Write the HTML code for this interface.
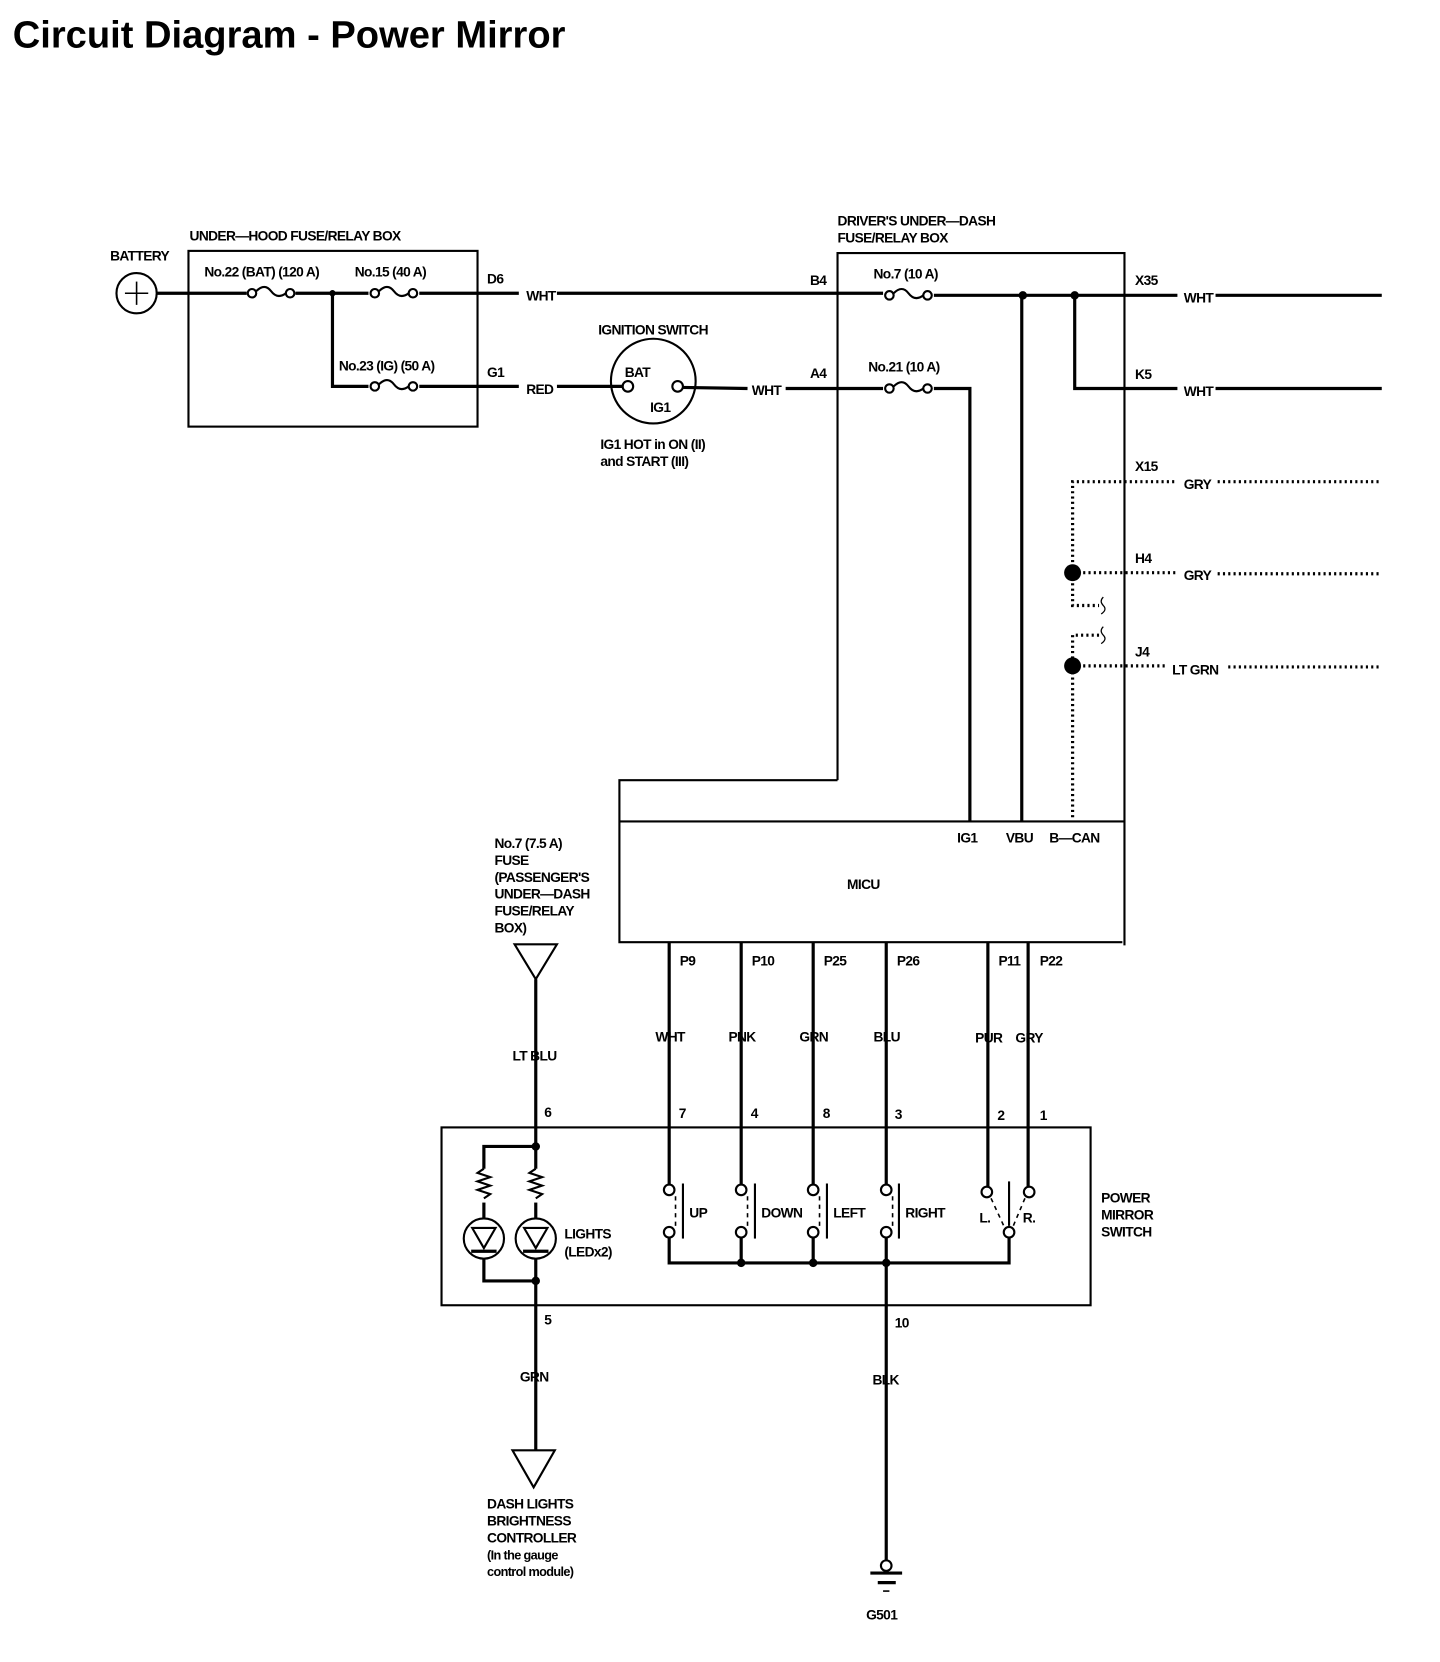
<!DOCTYPE html>
<html><head><meta charset="utf-8"><style>
html,body{margin:0;padding:0;background:#fff;}
svg{display:block;}
text{font-family:"Liberation Sans Narrow","Liberation Sans",sans-serif;font-weight:bold;font-size:13px;letter-spacing:-0.6px;fill:#000;}
.t{font-size:36px;letter-spacing:0px;font-family:"Liberation Sans",sans-serif;}
</style></head><body>
<svg width="1440" height="1662" viewBox="0 0 1360 1570" preserveAspectRatio="none" xmlns="http://www.w3.org/2000/svg">
<rect width="1360" height="1570" fill="#fff"/>
<text x="12" y="45" class="t">Circuit Diagram - Power Mirror</text>
<g fill="none" stroke="#000" stroke-width="2">
<circle cx="129" cy="277" r="19"/>
<line x1="118" y1="277" x2="140" y2="277" stroke-width="1.5"/><line x1="129" y1="266" x2="129" y2="288" stroke-width="1.5"/>
<rect x="178" y="237" width="273" height="166"/>
<polyline points="791,737 791,239 1062,239 1062,893"/>
<polyline points="791,737 585,737 585,890 1060,890"/>
<line x1="585" y1="776" x2="1062" y2="776"/>
<rect x="417" y="1065" width="613" height="168"/>
<circle cx="617" cy="360" r="40"/>
</g>
<g fill="none" stroke="#000" stroke-width="3">
<polyline points="148,277 233,277"/><polyline points="279,277 348,277"/><polyline points="396,277 490,277"/>
<polyline points="526,277 834,277"/><polyline points="882,279 1112,279"/><polyline points="1148,279 1305,279"/>
<polyline points="314,277 314,365 348,365"/><polyline points="396,365 490,365"/>
<polyline points="526,365 589,365"/><polyline points="645,366 706,367"/>
<polyline points="742,367 834,367"/><polyline points="882,367 916,367 916,776"/>
<line x1="965" y1="279" x2="965" y2="776"/>
<polyline points="1015,279 1015,367 1112,367"/><line x1="1148" y1="367" x2="1305" y2="367"/>
<line x1="632" y1="890" x2="632" y2="1119"/><line x1="700" y1="890" x2="700" y2="1119"/>
<line x1="768" y1="890" x2="768" y2="1119"/><line x1="837" y1="890" x2="837" y2="1119"/>
<line x1="933" y1="890" x2="933" y2="1121"/><line x1="971" y1="890" x2="971" y2="1121"/>
<polyline points="632,1169 632,1193 953,1193 953,1169"/>
<line x1="700" y1="1169" x2="700" y2="1193"/><line x1="768" y1="1169" x2="768" y2="1193"/>
<line x1="837" y1="1169" x2="837" y2="1474"/>
<line x1="506" y1="925" x2="506" y2="1104"/>
<polyline points="506,1083 457,1083 457,1104"/>
<polyline points="457,1136 457,1151"/><polyline points="506,1136 506,1151"/>
<polyline points="457,1189 457,1210 506,1210"/>
<line x1="506" y1="1189" x2="506" y2="1370"/>
<line x1="822" y1="1486" x2="852" y2="1486"/><line x1="829" y1="1495" x2="846" y2="1495"/>
</g>
<g fill="none" stroke="#000" stroke-width="2">
<g id="f"><circle cx="238" cy="277" r="4"/><circle cx="274" cy="277" r="4"/><path d="M242,275 q8,-8 14,0 q6,8 14,2"/></g>
<use href="#f" x="116"/><use href="#f" x="116" y="88"/>
<use href="#f" x="602" y="2"/><use href="#f" x="602" y="90"/>
<circle cx="593" cy="365" r="5"/><circle cx="640" cy="365" r="5"/>
<circle cx="632" cy="1124" r="5"/><circle cx="632" cy="1164" r="5"/>
<circle cx="700" cy="1124" r="5"/><circle cx="700" cy="1164" r="5"/>
<circle cx="768" cy="1124" r="5"/><circle cx="768" cy="1164" r="5"/>
<circle cx="837" cy="1124" r="5"/><circle cx="837" cy="1164" r="5"/>
<circle cx="932" cy="1126" r="5"/><circle cx="972" cy="1126" r="5"/><circle cx="953" cy="1164" r="5"/>
<g stroke-dasharray="4,4" stroke-width="1.5">
<line x1="638" y1="1130" x2="638" y2="1160"/><line x1="706" y1="1130" x2="706" y2="1160"/>
<line x1="774" y1="1130" x2="774" y2="1160"/><line x1="843" y1="1130" x2="843" y2="1160"/>
<line x1="936" y1="1132" x2="948" y2="1158"/><line x1="968" y1="1132" x2="957" y2="1158"/>
</g>
<line x1="645" y1="1118" x2="645" y2="1170"/><line x1="713" y1="1118" x2="713" y2="1170"/>
<line x1="781" y1="1118" x2="781" y2="1170"/><line x1="849" y1="1118" x2="849" y2="1170"/>
<line x1="953" y1="1116" x2="953" y2="1158"/>
<path d="M457,1104 l-6,4 l12,4 l-12,4 l12,4 l-12,4 l12,4 l-6,4"/>
<path d="M506,1104 l-6,4 l12,4 l-12,4 l12,4 l-12,4 l12,4 l-6,4"/>
<circle cx="457" cy="1170" r="19"/><circle cx="506" cy="1170" r="19"/>
<path d="M446,1160 L468,1160 L457,1179 Z"/><path d="M495,1160 L517,1160 L506,1179 Z"/>
<line x1="445" y1="1182" x2="469" y2="1182" stroke-width="3"/><line x1="494" y1="1182" x2="518" y2="1182" stroke-width="3"/>
<path d="M486,892 L526,892 L506,925 Z"/>
<path d="M484,1370 L524,1370 L504,1405 Z"/>
<circle cx="837" cy="1479" r="5"/>
<line x1="834" y1="1503" x2="840" y2="1503" stroke-width="1.5"/>
<g stroke-dasharray="2,3" stroke-width="3">
<polyline points="1013,772 1013,629"/>
<polyline points="1013,629 1100,629"/><line x1="1160" y1="630" x2="1305" y2="630"/>
<polyline points="1038,600 1013,600 1013,629"/>
<polyline points="1013,541 1013,572 1038,572"/>
<polyline points="1013,541 1013,455 1112,455"/><line x1="1150" y1="455" x2="1305" y2="455"/>
<line x1="1013" y1="541" x2="1112" y2="541"/><line x1="1150" y1="542" x2="1305" y2="542"/>
</g>
<path d="M1042,564 q-4,4 0,8 q4,4 -2,8" stroke-width="1.2"/>
<path d="M1042,592 q-4,4 0,8 q4,4 -2,8" stroke-width="1.2"/>
</g>
<g fill="#000">
<circle cx="314" cy="277" r="3"/><circle cx="966" cy="279" r="4"/><circle cx="1015" cy="279" r="4"/>
<circle cx="1013" cy="541" r="8"/><circle cx="1013" cy="629" r="8"/>
<circle cx="700" cy="1193" r="4"/><circle cx="768" cy="1193" r="4"/><circle cx="837" cy="1193" r="4"/>
<circle cx="506" cy="1083" r="4"/><circle cx="506" cy="1210" r="4"/>
</g>
<text x="104" y="246">BATTERY</text>
<text x="179" y="227">UNDER—HOOD FUSE/RELAY BOX</text>
<text x="193" y="261">No.22 (BAT) (120 A)</text>
<text x="335" y="261">No.15 (40 A)</text>
<text x="320" y="350">No.23 (IG) (50 A)</text>
<text x="460" y="268">D6</text><text x="497" y="284">WHT</text>
<text x="460" y="356">G1</text><text x="497" y="372">RED</text>
<text x="565" y="316">IGNITION SWITCH</text>
<text x="590" y="356">BAT</text><text x="614" y="389">IG1</text>
<text x="567" y="424">IG1 HOT in ON (II)</text><text x="567" y="440">and START (III)</text>
<text x="710" y="373">WHT</text>
<text x="791" y="213">DRIVER'S UNDER—DASH</text><text x="791" y="229">FUSE/RELAY BOX</text>
<text x="765" y="269">B4</text><text x="825" y="263">No.7 (10 A)</text>
<text x="765" y="357">A4</text><text x="820" y="351">No.21 (10 A)</text>
<text x="1072" y="269">X35</text><text x="1118" y="286">WHT</text>
<text x="1072" y="358">K5</text><text x="1118" y="374">WHT</text>
<text x="1072" y="445">X15</text><text x="1118" y="462">GRY</text>
<text x="1072" y="532">H4</text><text x="1118" y="548">GRY</text>
<text x="1072" y="620">J4</text><text x="1107" y="637">LT GRN</text>
<text x="904" y="796">IG1</text><text x="950" y="796">VBU</text><text x="991" y="796">B—CAN</text>
<text x="800" y="840">MICU</text>
<text x="642" y="912">P9</text><text x="710" y="912">P10</text><text x="778" y="912">P25</text>
<text x="847" y="912">P26</text><text x="943" y="912">P11</text><text x="982" y="912">P22</text>
<text x="619" y="984">WHT</text><text x="688" y="984">PNK</text><text x="755" y="984">GRN</text>
<text x="825" y="984">BLU</text><text x="921" y="985">PUR</text><text x="959" y="985">GRY</text>
<text x="641" y="1056">7</text><text x="709" y="1056">4</text><text x="777" y="1056">8</text>
<text x="845" y="1057">3</text><text x="942" y="1058">2</text><text x="982" y="1058">1</text>
<text x="514" y="1055">6</text>
<text x="651" y="1150">UP</text><text x="719" y="1150">DOWN</text><text x="787" y="1150">LEFT</text>
<text x="855" y="1150">RIGHT</text><text x="925" y="1155">L.</text><text x="966" y="1155">R.</text>
<text x="1040" y="1136">POWER</text><text x="1040" y="1152">MIRROR</text><text x="1040" y="1168">SWITCH</text>
<text x="533" y="1170">LIGHTS</text><text x="533" y="1187">(LEDx2)</text>
<text x="467" y="801">No.7 (7.5 A)</text><text x="467" y="817">FUSE</text>
<text x="467" y="833">(PASSENGER'S</text><text x="467" y="849">UNDER—DASH</text>
<text x="467" y="865">FUSE/RELAY</text><text x="467" y="881">BOX)</text>
<text x="484" y="1002">LT BLU</text>
<text x="514" y="1251">5</text><text x="491" y="1305">GRN</text>
<text x="845" y="1254">10</text><text x="824" y="1308">BLK</text>
<text x="460" y="1425">DASH LIGHTS</text><text x="460" y="1441">BRIGHTNESS</text>
<text x="460" y="1457">CONTROLLER</text>
<text x="460" y="1473" style="font-size:12px">(In the gauge</text><text x="460" y="1489" style="font-size:12px">control module)</text>
<text x="818" y="1530">G501</text>
</svg>
</body></html>
